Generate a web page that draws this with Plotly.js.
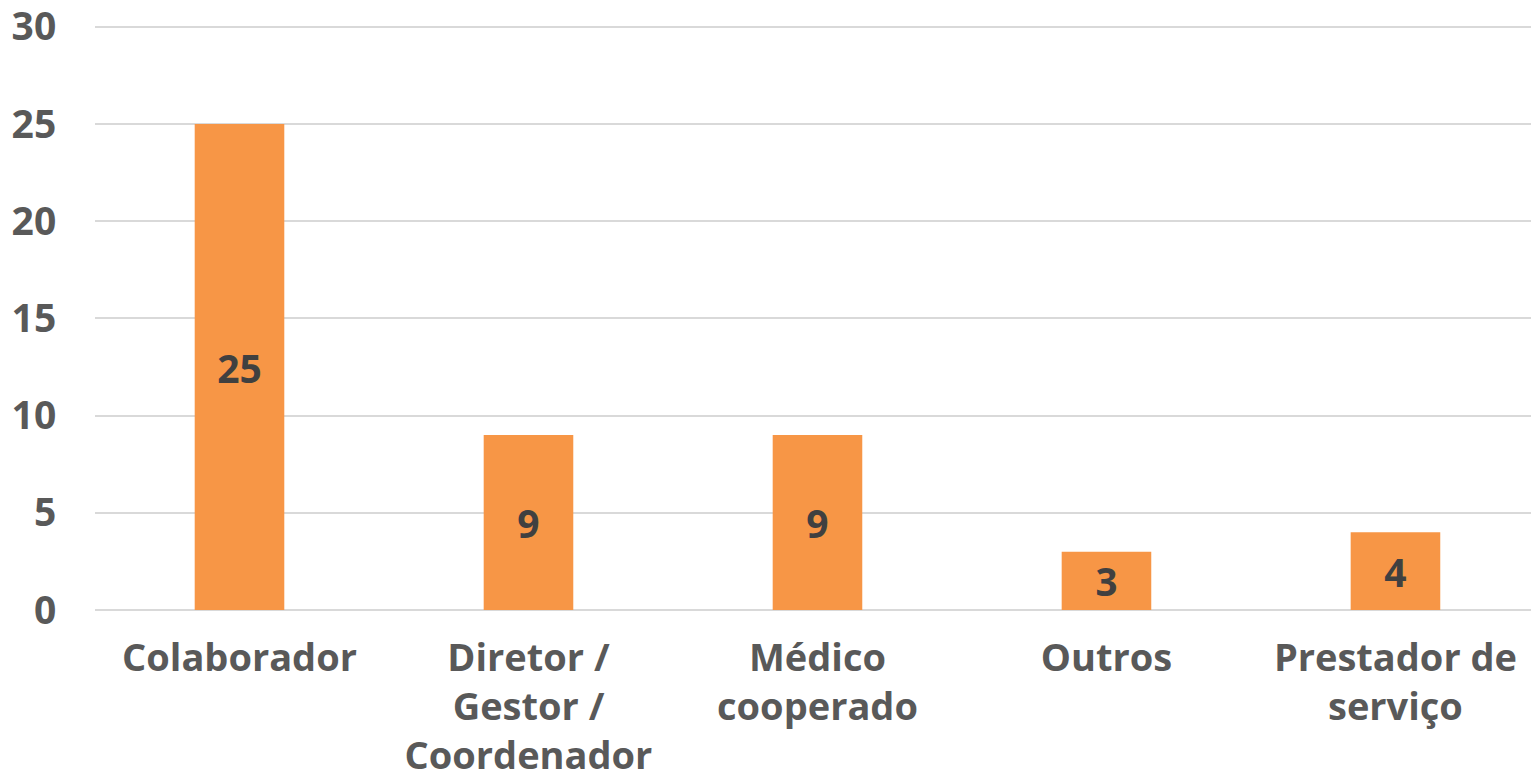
<!DOCTYPE html>
<html>
<head>
<meta charset="utf-8">
<script src="https://cdn.plot.ly/plotly-3.0.1.min.js"></script>
<style>html,body{margin:0;padding:0;background:#fff;}#chart{width:1531px;height:780px;}</style>
</head>
<body>
<div id="chart"></div>
<script>
const categories = ["Colaborador", "Diretor /<br>Gestor /<br>Coordenador", "Médico<br>cooperado", "Outros", "Prestador de<br>serviço"];
const values = [25, 9, 9, 3, 4];
const yTicks = [0, 5, 10, 15, 20, 25, 30];

const fontFam = "'Open Sans', 'DejaVu Sans', sans-serif";

const trace = {
  type: 'bar',
  x: categories,
  y: values,
  width: 0.31,
  marker: {color: '#F79646'},
  text: values.map(String),
  textposition: 'inside',
  insidetextanchor: 'middle',
  textangle: 0,
  textfont: {family: fontFam, size: 39, color: '#404040', weight: 'bold'},
  hoverinfo: 'none',
  cliponaxis: false
};

// plot area: y from 21px to 610px of a 780px page (bottom margin 170)
const plotH = 610 - 21;
const availH = 610;

const layout = {
  width: 1531,
  height: 780,
  margin: {l: 95, r: 0, t: 0, b: 170},
  paper_bgcolor: '#ffffff',
  plot_bgcolor: '#ffffff',
  showlegend: false,
  font: {family: fontFam, color: '#595959'},
  xaxis: {
    type: 'category',
    range: [-0.5, 4.469],
    showgrid: false,
    showline: false,
    zeroline: false,
    ticks: 'outside',
    ticklen: 14,
    tickcolor: 'rgba(0,0,0,0)',
    tickfont: {family: fontFam, size: 38, color: '#595959', weight: 'bold'},
    fixedrange: true
  },
  yaxis: {
    domain: [0, plotH / availH],
    range: [0, 30.3],
    tickvals: yTicks,
    ticktext: yTicks.map(String),
    ticklabeloverflow: 'allow',
    showgrid: true,
    gridcolor: '#d9d9d9',
    gridwidth: 2,
    zeroline: true,
    zerolinecolor: '#d9d9d9',
    zerolinewidth: 2,
    showline: false,
    ticks: 'outside',
    ticklen: 30,
    tickcolor: 'rgba(0,0,0,0)',
    tickfont: {family: fontFam, size: 39, color: '#595959', weight: 'bold'},
    fixedrange: true
  },
  bargap: 0.69
};

Plotly.newPlot('chart', [trace], layout, {displayModeBar: false, staticPlot: true});
</script>
</body>
</html>
